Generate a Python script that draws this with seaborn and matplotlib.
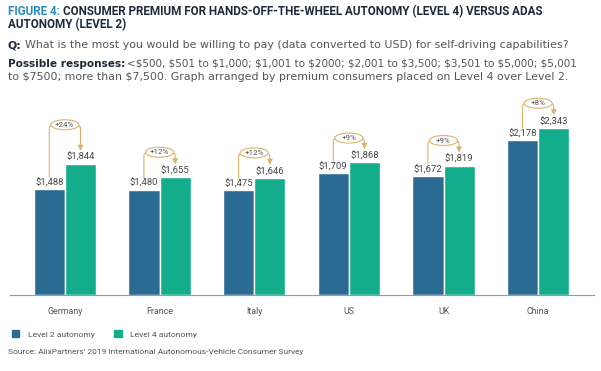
import matplotlib
matplotlib.use('Agg')

import matplotlib.pyplot as plt
import numpy as np
import pandas as pd
import seaborn as sns
from matplotlib.patches import Ellipse, FancyArrowPatch, Patch
from matplotlib.path import Path

# data
countries = ["Germany", "France", "Italy", "US", "UK", "China"]
level2 = [1488, 1480, 1475, 1709, 1672, 2178]
level4 = [1844, 1655, 1646, 1868, 1819, 2343]
premium = ["+24%", "+12%", "+12%", "+9%", "+9%", "+8%"]
series = ["Level 2 autonomy", "Level 4 autonomy"]

L2_COLOR = "#2b6a93"
L4_COLOR = "#14ad8c"
GOLD = "#d9b36c"
GREY = "#555555"
NAVY = "#1d2a38"
BLUE = "#2b8bc4"
BODY = "DejaVu Sans"
BODY_SIZE = 7.9
TITLE_SIZE = 8.4

sns.set_theme(style="white")
plt.rcParams['font.family'] = ['Roboto', 'DejaVu Sans']

df = pd.DataFrame({
    "Country": countries * 2,
    "Series": [series[0]] * len(countries) + [series[1]] * len(countries),
    "Value": level2 + level4,
})

fig = plt.figure(figsize=(6.01, 3.71), dpi=100)
W, H = 601, 371
ax = fig.add_axes([10 / W, 76 / H, 584 / W, 195 / H])

sns.barplot(data=df, x="Country", y="Value", hue="Series", order=countries,
            hue_order=series, palette=[L2_COLOR, L4_COLOR], width=0.66,
            saturation=1, errorbar=None, legend=False, ax=ax)
ax.set_xlim(-0.58, 5.59)
ax.set_ylim(0, 2740)
ax.set_xlabel("")
ax.set_ylabel("")
ax.set_yticks([])
ax.tick_params(axis='x', length=0, pad=9, labelsize=6.4, labelcolor=GREY)
for s in ["top", "left", "right"]:
    ax.spines[s].set_visible(False)
ax.spines["bottom"].set_color("#9a9a9a")
ax.spines["bottom"].set_linewidth(0.8)

# value labels
for cont in ax.containers:
    for bar in cont:
        v = bar.get_height()
        ax.annotate(f"${v:,.0f}", (bar.get_x() + bar.get_width() / 2, v),
                    xytext=(0, 1.2), textcoords='offset points', parse_math=False,
                    ha='center', va='bottom', fontsize=6.8, color="#444444")

# premium brackets (drawn in pixel space, then mapped back to data)
inv = ax.transData.inverted()
rise = [39, 25, 25, 24, 25, 25]
r = 4
for i, (b2, b4) in enumerate(zip(ax.containers[0], ax.containers[1])):
    x2, y2 = ax.transData.transform((b2.get_x() + b2.get_width() / 2, b2.get_height()))
    x4, y4 = ax.transData.transform((b4.get_x() + b4.get_width() / 2, b4.get_height()))
    top = y4 + rise[i]
    pts = [(x2, y2 + 12), (x2, top - r), (x2, top), (x2 + r, top),
           (x4 - r, top), (x4, top), (x4, top - r), (x4, y4 + 13)]
    codes = [Path.MOVETO, Path.LINETO, Path.CURVE3, Path.CURVE3,
             Path.LINETO, Path.CURVE3, Path.CURVE3, Path.LINETO]
    path = Path(inv.transform(pts), codes)
    arr = FancyArrowPatch(path=path, arrowstyle='-|>,head_length=0.45,head_width=0.22',
                          mutation_scale=7, color=GOLD, lw=0.8, clip_on=False,
                          transform=ax.transData)
    ax.add_patch(arr)
    cx = (x2 + x4) / 2
    c = inv.transform((cx, top))
    w = inv.transform((cx + 28, top + 10)) - c
    ax.add_patch(Ellipse(c, w[0], w[1], facecolor="white", edgecolor=GOLD,
                         lw=0.8, zorder=5, clip_on=False))
    ax.text(c[0], c[1], premium[i], ha='center', va='center', fontsize=5.8,
            color=GREY, zorder=6)

# header text
t = fig.text(8 / W, 1 - 15 / H, "FIGURE 4:", fontsize=TITLE_SIZE, weight='bold', color=BLUE)
ax.annotate("CONSUMER PREMIUM FOR HANDS-OFF-THE-WHEEL AUTONOMY (LEVEL 4) VERSUS ADAS",
            xy=(1, 0), xycoords=t, xytext=(2.5, 0), textcoords='offset points',
            fontsize=TITLE_SIZE, weight='bold', color=NAVY, va='bottom')
fig.text(8 / W, 1 - 28 / H, "AUTONOMY (LEVEL 2)", fontsize=TITLE_SIZE, weight='bold', color=NAVY)

q = fig.text(8 / W, 1 - 48 / H, "Q:", fontsize=BODY_SIZE, weight='bold', color=NAVY, family=BODY)
ax.annotate("What is the most you would be willing to pay (data converted to USD) for self-driving capabilities?",
            xy=(1, 0), xycoords=q, xytext=(2.5, 0), textcoords='offset points',
            fontsize=BODY_SIZE, color=GREY, va='bottom', family=BODY)

p = fig.text(8 / W, 1 - 67 / H, "Possible responses:", fontsize=7.6, weight='bold',
             color=NAVY, family=BODY)
ax.annotate("<$500, $501 to $1,000; $1,001 to $2000; $2,001 to $3,500; $3,501 to $5,000; $5,001",
            xy=(1, 0), xycoords=p, xytext=(1.5, 0), textcoords='offset points',
            fontsize=7.5, color=GREY, va='bottom', family=BODY, parse_math=False)
fig.text(8 / W, 1 - 80 / H,
         "to $7500; more than $7,500. Graph arranged by premium consumers placed on Level 4 over Level 2.",
         fontsize=BODY_SIZE, color=GREY, family=BODY, parse_math=False)

# legend
handles = [Patch(color=L2_COLOR), Patch(color=L4_COLOR)]
fig.legend(handles, series, loc='center left', bbox_to_anchor=(4 / W, 1 - 334 / H),
           ncol=2, frameon=False, fontsize=6.1, handlelength=0.9, handleheight=0.9,
           handletextpad=1.0, columnspacing=2.3, labelcolor=GREY)

fig.text(8 / W, 1 - 354 / H,
         "Source: AlixPartners' 2019 International Autonomous-Vehicle Consumer Survey",
         fontsize=6.05, color=GREY)

fig.savefig("out.png", dpi=100)
plt.close('all')
